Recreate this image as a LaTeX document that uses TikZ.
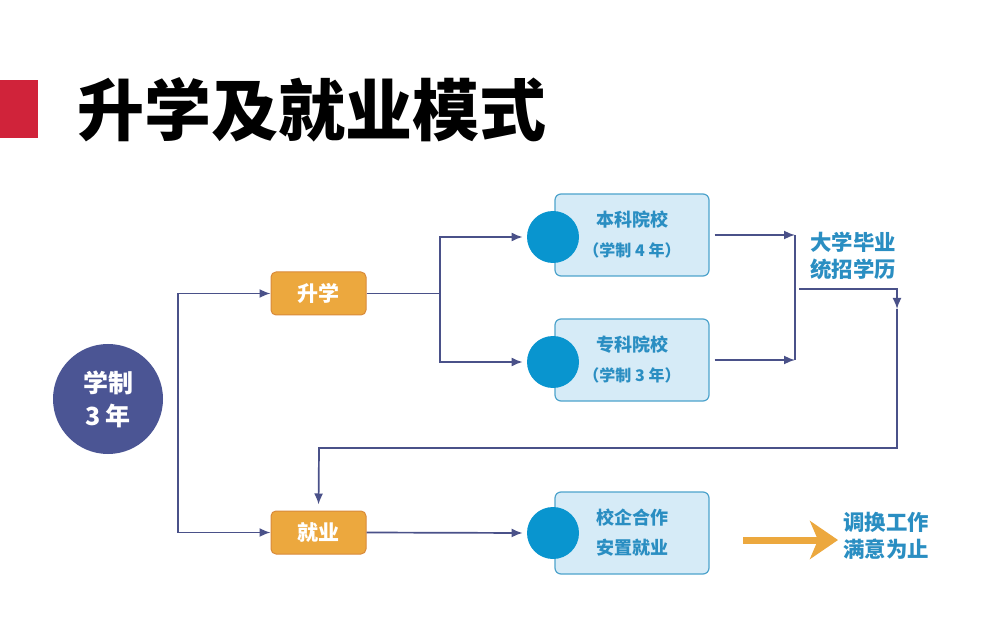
\documentclass[tikz,border=0pt]{standalone}
\usepackage{fontspec}
\setmainfont{Noto Sans CJK SC}
\usetikzlibrary{arrows.meta}
\definecolor{lineblue}{HTML}{4A5189}
\definecolor{navy}{HTML}{4B5594}
\definecolor{boxorange}{HTML}{ECA83E}
\definecolor{edgeorange}{HTML}{D98A3A}
\definecolor{paleblue}{HTML}{D6EBF7}
\definecolor{edgeblue}{HTML}{4DA3CC}
\definecolor{dotblue}{HTML}{0995CF}
\definecolor{textblue}{HTML}{2A8EC2}
\definecolor{titlered}{HTML}{D0233A}
\begin{document}
\begin{tikzpicture}[x=0.5pt,y=-0.5pt,
  >={Latex[length=5.5pt,width=4.5pt]},
  conn/.style={draw=lineblue,line width=0.85pt},
  stagebox/.style={rectangle,rounded corners=2.5pt,fill=boxorange,draw=edgeorange,line width=0.5pt,
    minimum width=47.5pt,minimum height=21.5pt,text=white,font=\fontsize{10.5}{12}\selectfont\bfseries},
  schoolbox/.style={rectangle,rounded corners=3pt,fill=paleblue,draw=edgeblue,line width=0.6pt,
    minimum width=77pt,minimum height=41pt,text=textblue,align=center,inner xsep=0pt,
    font=\fontsize{9}{15}\selectfont\bfseries},
  dot/.style={circle,fill=dotblue,minimum size=26pt,inner sep=0pt},
  result/.style={text=textblue,align=center,font=\fontsize{10.7}{13.5}\selectfont\bfseries}]
  \useasboundingbox (0,0) rectangle (1000,641);
  \fill[white] (0,0) rectangle (1000,641);

  % heading
  \fill[titlered] (0,80) rectangle (38,138);
  \node [anchor=west,font=\fontsize{33.5}{36}\selectfont\bfseries] (title) at (70,110) {升学及就业模式};

  \node [circle,fill=navy,minimum size=55pt,text=white,align=center,
    font=\fontsize{12.5}{16.5}\selectfont\bfseries] (xuezhi) at (108,399) {学制\\3 年};

  \node [stagebox] (shengxue) at (318.5,293.5) {升学};
  \node [stagebox] (jiuye) at (318.5,532.5) {就业};

  \node [schoolbox] (benke) at (632,235) {本科院校\\{\fontsize{8}{8}\selectfont（学制 4 年）}};
  \node [schoolbox] (zhuanke) at (632,360) {专科院校\\{\fontsize{8}{8}\selectfont（学制 3 年）}};
  \node [schoolbox] (anzhi) at (632,533) {校企合作\\安置就业};
  \node [dot] (dot1) at (553,237) {};
  \node [dot] (dot2) at (553,362) {};
  \node [dot] (dot3) at (553,533) {};

  \node [result] (biye) at (853,256) {大学毕业\\统招学历};
  \node [result] (tiaohuan) at (886,536) {调换工作\\满意为止};

  \coordinate (fork) at (178,532.5);
  \coordinate (split) at (440,293.5);
  \coordinate (merge) at (795,289);
  \coordinate (grad) at (799,289);
  \coordinate (mid) at (897,309);
  \coordinate (turn) at (319,448);
  \coordinate (orgA) at (743,540);
  \coordinate (orgB) at (838,540);

  \draw[conn,->] (fork) |- (shengxue.west);
  \draw[conn,->] (fork) -- (jiuye.west);
  \draw[conn] (shengxue.east) -- (split);
  \draw[conn,->,shorten >=2pt] (split) |- (dot1.west);
  \draw[conn,->,shorten >=2pt] (split) |- (dot2.west);
  \draw[conn,->,shorten >=2pt] (jiuye.east) -- (dot3.west);
  \draw[conn,->,shorten <=2.5pt] (benke.east) -- (benke.east -| merge);
  \draw[conn,->,shorten <=2.5pt] (zhuanke.east) -- (zhuanke.east -| merge);
  \draw[conn] (benke.east -| merge) -- (zhuanke.east -| merge);
  \draw[conn,->] (grad) -| (mid);
  \draw[conn,->,shorten >=3pt] (mid) |- (turn) -- (jiuye.north);
  \draw[boxorange,line width=3.5pt,-{Stealth[length=14pt,width=19pt,inset=4pt]}] (orgA) -- (orgB);
\end{tikzpicture}
\end{document}
